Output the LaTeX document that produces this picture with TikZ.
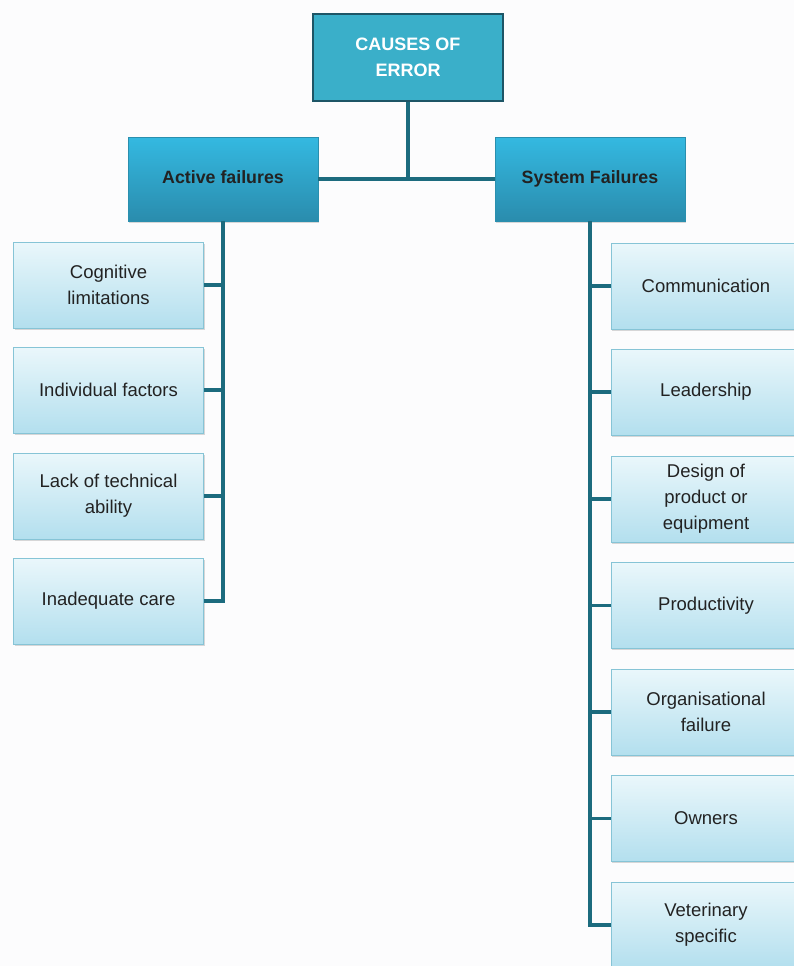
\documentclass[tikz,border=0pt]{standalone}
\usepackage{fontspec}
\setmainfont{Liberation Sans}
\usetikzlibrary{shadows}
\definecolor{linec}{HTML}{1C6B7E}
\definecolor{topfill}{HTML}{3AAFC9}
\definecolor{topdraw}{HTML}{1D5566}
\definecolor{midtop}{HTML}{34B9E1}
\definecolor{midbot}{HTML}{2A8CAD}
\definecolor{midline}{HTML}{2A8FAE}
\definecolor{leaftop}{HTML}{EAF7FB}
\definecolor{leafbot}{HTML}{B3DFEE}
\definecolor{leafdraw}{HTML}{86C4D6}
\definecolor{txt}{HTML}{222222}
\definecolor{bg}{HTML}{FCFCFD}
\tikzset{
  topbox/.style={draw=topdraw, line width=2pt, fill=topfill, minimum width=190pt, minimum height=87pt,
    text=white, font=\fontsize{18}{26}\selectfont\bfseries, align=center, inner sep=0pt},
  midbox/.style={draw=midline, line width=0.8pt, top color=midtop, bottom color=midbot,
    minimum width=190pt, minimum height=84pt, text=txt, font=\fontsize{17.8}{24}\selectfont\bfseries,
    align=center, inner sep=0pt, text height=13pt, text depth=4pt,
    drop shadow={shadow xshift=1pt, shadow yshift=-1.5pt, opacity=0.3}},
  leaf/.style={draw=leafdraw, line width=1pt, top color=leaftop, bottom color=leafbot,
    minimum width=190pt, minimum height=86pt, text=txt, font=\fontsize{18.5}{26}\selectfont,
    align=center, inner sep=0pt, drop shadow={shadow xshift=1pt, shadow yshift=-1.5pt, opacity=0.3}},
  conn/.style={draw=linec, line width=3.2pt},
}
\begin{document}
\begin{tikzpicture}[x=1pt,y=-1pt]
\fill[bg] (0,0) rectangle (794,966);
\useasboundingbox (0,0) rectangle (794,966);
\begin{scope}
\clip (0,0) rectangle (794,966);
\node[topbox] (top) at (408,57.5) {CAUSES OF\\ERROR};
\node[midbox] (af) at (223,179) {Active failures};
\node[midbox] (sf) at (590,179) {System Failures};
\node[leaf] (l1) at (108.5,285) {Cognitive\\limitations};
\node[leaf] (l2) at (108.5,390) {Individual factors};
\node[leaf] (l3) at (108.5,496) {Lack of technical\\ability};
\node[leaf] (l4) at (108.5,601) {Inadequate care};
\node[leaf] (r1) at (706,286) {Communication};
\node[leaf] (r2) at (706,392) {Leadership};
\node[leaf] (r3) at (706,499) {Design of\\product or\\equipment};
\node[leaf] (r4) at (706,605.5) {Productivity};
\node[leaf] (r5) at (706,712) {Organisational\\failure};
\node[leaf] (r6) at (706,818.5) {Owners};
\node[leaf] (r7) at (706,925) {Veterinary\\specific};
\draw[conn] (top.south) -- (top.south |- af.east);
\draw[conn] (af.east) -- (sf.west);
\draw[conn] (af.south) |- (l4.east);
\foreach \n in {l1,l2,l3} \draw[conn] (\n.east) -- (\n.east -| af.south);
\draw[conn] (sf.south) |- (r7.west);
\foreach \n in {r1,r2,r3,r4,r5,r6} \draw[conn] (\n.west) -- (\n.west -| sf.south);
\end{scope}
\end{tikzpicture}
\end{document}
